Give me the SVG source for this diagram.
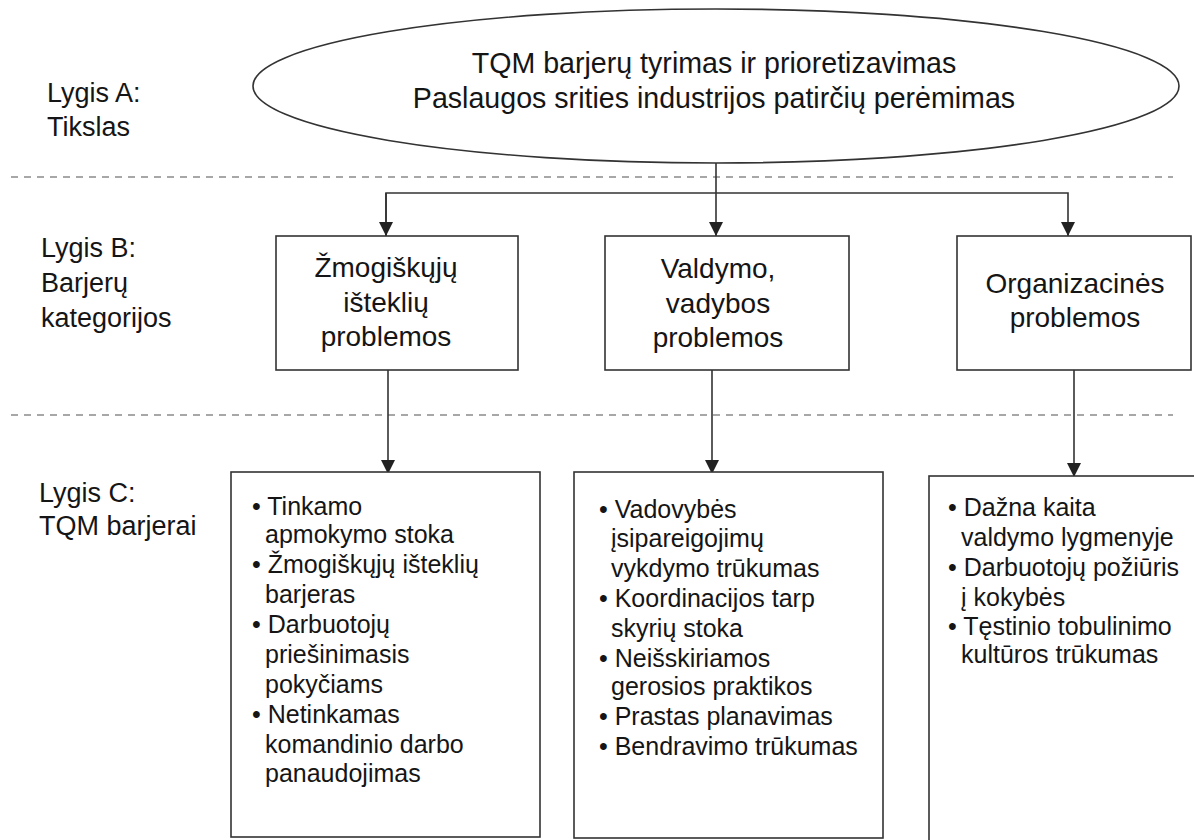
<svg xmlns="http://www.w3.org/2000/svg" width="1194" height="840" viewBox="0 0 1194 840">
  <style>
    text { font-family: "Liberation Sans", Arial, sans-serif; fill: #151515; }
    .lbl { font-size: 27px; }
    .title { font-size: 28.6px; text-anchor: middle; }
    .cat { font-size: 28px; text-anchor: middle; }
    .item { font-size: 25px; }
    .box { fill: #ffffff; stroke: #333333; stroke-width: 1.6; }
    .dash { stroke: #8a8a8a; stroke-width: 1.5; stroke-dasharray: 7 6; fill: none; }
    .conn { stroke: #333333; stroke-width: 1.6; fill: none; }
  </style>
  <defs>
    <marker id="arrow" markerUnits="userSpaceOnUse" markerWidth="14" markerHeight="15" refX="14" refY="7" orient="auto">
      <path d="M0,0 L14,7 L0,14 Z" fill="#222222"/>
    </marker>
  </defs>
  <rect width="1194" height="840" fill="#ffffff"/>

  <!-- level separators -->
  <g id="separators">
    <line class="dash" x1="11" y1="177" x2="1173" y2="177"/>
    <line class="dash" x1="11" y1="415" x2="1173" y2="415"/>
  </g>

  <!-- level labels -->
  <g id="labels">
    <text class="lbl" x="47" y="102">Lygis A:</text>
    <text class="lbl" x="47" y="136">Tikslas</text>
    <text class="lbl" x="41" y="257">Lygis B:</text>
    <text class="lbl" x="41" y="292">Barjerų</text>
    <text class="lbl" x="41" y="327">kategorijos</text>
    <text class="lbl" x="39" y="502">Lygis C:</text>
    <text class="lbl" x="39" y="535">TQM barjerai</text>
  </g>

  <!-- connectors -->
  <g id="connectors">
    <line class="conn" x1="716" y1="163" x2="716" y2="236" marker-end="url(#arrow)"/>
    <polyline class="conn" points="386,236 386,193 1068,193 1068,236" marker-end="url(#arrow)"/>
    <line class="conn" x1="386" y1="193" x2="386" y2="236" marker-end="url(#arrow)"/>
    <line class="conn" x1="388" y1="370" x2="388" y2="474" marker-end="url(#arrow)"/>
    <line class="conn" x1="712" y1="370" x2="712" y2="474" marker-end="url(#arrow)"/>
    <line class="conn" x1="1074" y1="370" x2="1074" y2="477" marker-end="url(#arrow)"/>
  </g>

  <!-- Level A goal -->
  <g id="goal">
    <ellipse cx="716" cy="86" rx="463" ry="77" fill="#ffffff" stroke="#333333" stroke-width="1.6"/>
    <text class="title" x="714" y="73">TQM barjerų tyrimas ir prioretizavimas</text>
    <text class="title" x="714" y="108">Paslaugos srities industrijos patirčių perėmimas</text>
  </g>

  <!-- Level B categories -->
  <g id="cat-human">
    <rect class="box" x="276" y="236" width="242" height="134"/>
    <text class="cat" x="386" y="277">Žmogiškųjų</text>
    <text class="cat" x="386" y="312">išteklių</text>
    <text class="cat" x="386" y="346">problemos</text>
  </g>
  <g id="cat-management">
    <rect class="box" x="605" y="236" width="244" height="134"/>
    <text class="cat" x="718" y="278">Valdymo,</text>
    <text class="cat" x="718" y="313">vadybos</text>
    <text class="cat" x="718" y="347">problemos</text>
  </g>
  <g id="cat-organisation">
    <rect class="box" x="957" y="236" width="234" height="134"/>
    <text class="cat" x="1075" y="293">Organizacinės</text>
    <text class="cat" x="1075" y="327">problemos</text>
  </g>

  <!-- Level C barriers -->
  <g id="barriers-human">
    <rect class="box" x="231" y="472" width="309" height="365"/>
    <text class="item" x="252" y="515">• Tinkamo</text>
    <text class="item" x="265" y="543">apmokymo stoka</text>
    <text class="item" x="252" y="573">• Žmogiškųjų išteklių</text>
    <text class="item" x="265" y="603">barjeras</text>
    <text class="item" x="252" y="633">• Darbuotojų</text>
    <text class="item" x="265" y="663">priešinimasis</text>
    <text class="item" x="265" y="693">pokyčiams</text>
    <text class="item" x="252" y="723">• Netinkamas</text>
    <text class="item" x="265" y="753">komandinio darbo</text>
    <text class="item" x="265" y="782">panaudojimas</text>
  </g>
  <g id="barriers-management">
    <rect class="box" x="574" y="472" width="309" height="366"/>
    <text class="item" x="599" y="518">• Vadovybės</text>
    <text class="item" x="611" y="547">įsipareigojimų</text>
    <text class="item" x="611" y="577">vykdymo trūkumas</text>
    <text class="item" x="599" y="607">• Koordinacijos tarp</text>
    <text class="item" x="611" y="637">skyrių stoka</text>
    <text class="item" x="599" y="667">• Neišskiriamos</text>
    <text class="item" x="611" y="695">gerosios praktikos</text>
    <text class="item" x="599" y="725">• Prastas planavimas</text>
    <text class="item" x="599" y="755">• Bendravimo trūkumas</text>
  </g>
  <g id="barriers-organisation">
    <rect class="box" x="929" y="476" width="280" height="380"/>
    <text class="item" x="948" y="516">• Dažna kaita</text>
    <text class="item" x="961" y="546">valdymo lygmenyje</text>
    <text class="item" x="948" y="576">• Darbuotojų požiūris</text>
    <text class="item" x="961" y="606">į kokybės</text>
    <text class="item" x="948" y="635">• Tęstinio tobulinimo</text>
    <text class="item" x="961" y="663">kultūros trūkumas</text>
  </g>
</svg>
